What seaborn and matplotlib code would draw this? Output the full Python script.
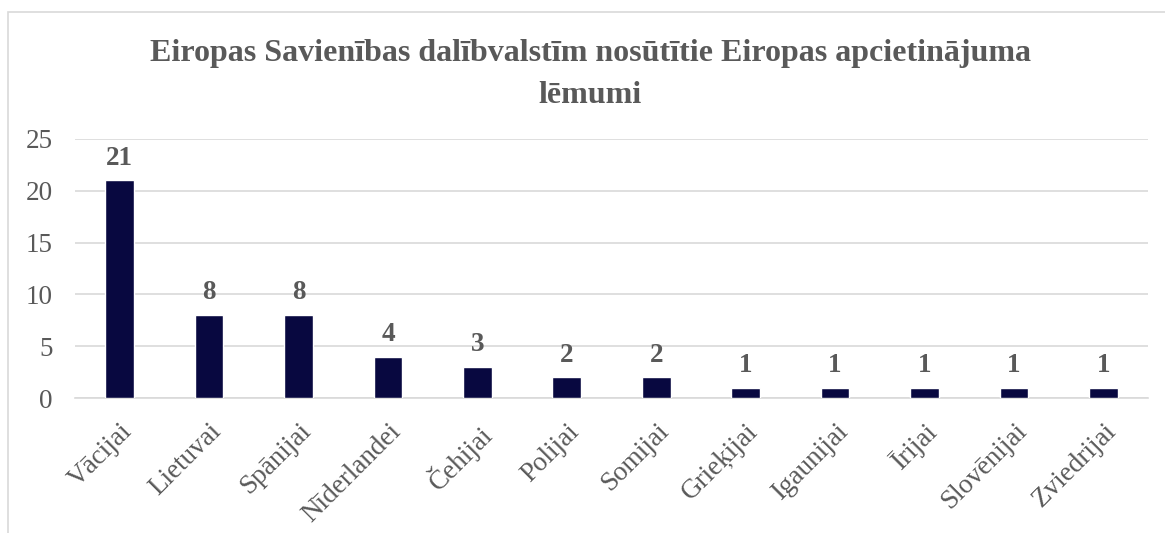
import matplotlib
matplotlib.use("Agg")
import matplotlib.pyplot as plt
import seaborn as sns
import pandas as pd
from matplotlib.patches import Rectangle

countries = ["Vācijai", "Lietuvai", "Spānijai", "Nīderlandei", "Čehijai", "Polijai",
             "Somijai", "Grieķijai", "Igaunijai", "Īrijai", "Slovēnijai", "Zviedrijai"]
counts = [21, 8, 8, 4, 3, 2, 2, 1, 1, 1, 1, 1]
yticks = [0, 5, 10, 15, 20, 25]
title = "Eiropas Savienības dalībvalstīm nosūtītie Eiropas apcietinājuma\nlēmumi"

sns.set_style("white")
plt.rcParams['font.family'] = ['Liberation Serif', 'DejaVu Serif']

txt = "#595959"
grid = "#d9d9d9"

df = pd.DataFrame({"valsts": countries, "skaits": counts})

fig = plt.figure(figsize=(11.65, 5.33), dpi=100)
ax = fig.add_axes([75/1165, 1-398/533, (1148-75)/1165, (398-139)/533])

sns.barplot(data=df, x="valsts", y="skaits", color="#080840", width=0.32,
            saturation=1, ax=ax, zorder=3)

ax.set_ylim(0, 25)
ax.set_yticks(yticks)
ax.yaxis.grid(True, color=grid, linewidth=1.2, zorder=0)
ax.set_axisbelow(True)
for s in ["top", "right", "left"]:
    ax.spines[s].set_visible(False)
ax.spines["bottom"].set_color(grid)
ax.spines["bottom"].set_linewidth(1.2)
ax.set_xlabel("")
ax.set_ylabel("")
ax.tick_params(axis="both", length=0, colors=txt, labelsize=19.5)
ax.tick_params(axis="y", pad=16)
ax.tick_params(axis="x", pad=15)
for lab in ax.get_xticklabels():
    lab.set_rotation(45)
    lab.set_ha("right")
    lab.set_rotation_mode("anchor")

ax.bar_label(ax.containers[0], padding=7, color=txt, fontsize=19.5, fontweight="bold")

fig.text(590/1165, 1-39/533, title, ha="center", va="top", color=txt,
         fontsize=23, fontweight="bold", linespacing=1.6)

fig.patches.append(Rectangle((8/1165, -0.1), 1.2, 1.1-12/533, transform=fig.transFigure,
                             fill=False, edgecolor=grid, linewidth=1.2))

fig.savefig("out.png", dpi=100)
